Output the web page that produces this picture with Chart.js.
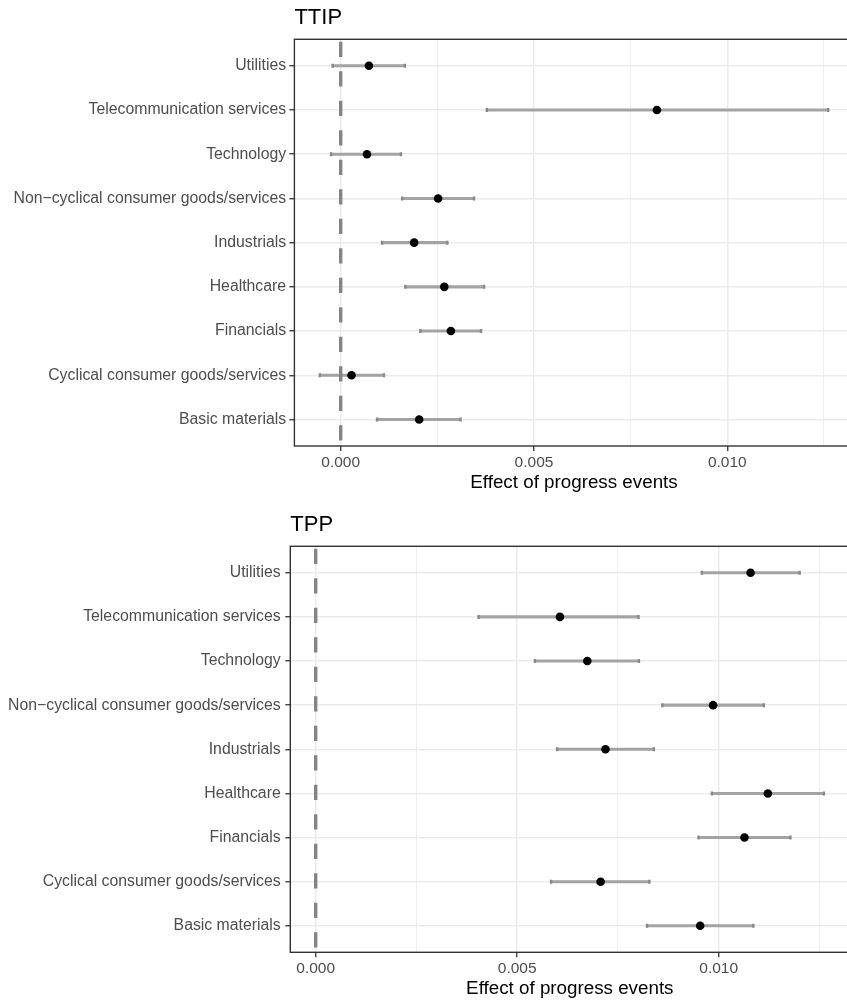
<!DOCTYPE html>
<html>
<head>
<meta charset="utf-8">
<script src="https://cdn.jsdelivr.net/npm/chart.js@4.4.1/dist/chart.umd.min.js"></script>
<style>
  html, body { margin: 0; padding: 0; background: #ffffff; overflow: hidden; width: 847px; height: 1005px; }
  canvas { position: absolute; left: 0; display: block; }
</style>
</head>
<body>
<canvas id="ttip" width="860" height="507" style="top:0px"></canvas>
<canvas id="tpp" width="860" height="498" style="top:507px"></canvas>
<script>
// Sectors, listed from the bottom row of each panel to the top row
const sectors = [
  'Basic materials',
  'Cyclical consumer goods/services',
  'Financials',
  'Healthcare',
  'Industrials',
  'Non\u2212cyclical consumer goods/services',
  'Technology',
  'Telecommunication services',
  'Utilities'
];

// TTIP: point estimates and confidence bounds
const ttipEstimate = [0.00203, 0.00028, 0.00285, 0.00268, 0.00190, 0.00252, 0.00068, 0.00818, 0.00073];
const ttipLower    = [0.00094, -0.00054, 0.00206, 0.00167, 0.00107, 0.00159, -0.00025, 0.00378, -0.00021];
const ttipUpper    = [0.00310, 0.00112, 0.00363, 0.00371, 0.00276, 0.00345, 0.00156, 0.01261, 0.00166];

// TPP: point estimates and confidence bounds
const tppEstimate = [0.00954, 0.00707, 0.01064, 0.01122, 0.00719, 0.00986, 0.00674, 0.00606, 0.01079];
const tppLower    = [0.00822, 0.00584, 0.00950, 0.00983, 0.00599, 0.00860, 0.00544, 0.00404, 0.00958];
const tppUpper    = [0.01086, 0.00828, 0.01178, 0.01261, 0.00839, 0.01112, 0.00802, 0.00801, 0.01201];

// x axis ticks: labelled majors and unlabelled minors
const xMajorTicks = [0, 0.005, 0.010];
const xTickLabels = ['0.000', '0.005', '0.010'];
const xMinorTicks = [0.0025, 0.0075, 0.0125];

const xTitle = 'Effect of progress events';
const FONT = "'Liberation Sans', Arial, Helvetica, sans-serif";

const isMajor = v => xMajorTicks.some(t => Math.abs(t - v) < 1e-9);

// Full panel frame drawn over the plot area
const panelBorder = {
  id: 'panelBorder',
  afterDraw(chart) {
    const { ctx, chartArea: a } = chart;
    ctx.save();
    ctx.strokeStyle = '#333333';
    ctx.lineWidth = 1.4;
    ctx.strokeRect(a.left, a.top, a.right - a.left, a.bottom - a.top);
    ctx.restore();
  }
};

function panel(canvasId, title, est, lower, upper, geo) {
  // data range (including the zero reference line) expanded by 5% each side
  const lo = Math.min(0, ...lower), hi = Math.max(0, ...upper);
  const pad = (hi - lo) * 0.05;
  const yMin = -0.6, yMax = sectors.length - 1 + 0.6;

  const intervals = [];
  sectors.forEach((s, i) => {
    intervals.push({ x: lower[i], y: i }, { x: upper[i], y: i }, { x: null, y: null });
  });
  const caps = [];
  sectors.forEach((s, i) => { caps.push({ x: lower[i], y: i }, { x: upper[i], y: i }); });

  new Chart(document.getElementById(canvasId), {
    type: 'scatter',
    data: {
      datasets: [
        {
          data: est.map((v, i) => ({ x: v, y: i })),
          pointRadius: 4.3, pointHoverRadius: 4.3,
          backgroundColor: '#000000', borderWidth: 0
        },
        {
          data: [{ x: 0, y: yMax }, { x: 0, y: yMin }],
          showLine: true, pointRadius: 0,
          borderColor: '#848484', borderWidth: 3.4,
          borderDash: [15.3, 14.2], borderDashOffset: 27.1,
          borderCapStyle: 'butt'
        },
        {
          data: caps,
          pointStyle: 'line', rotation: 90, pointRadius: 2,
          borderColor: '#888888', borderWidth: 2.4, backgroundColor: '#888888'
        },
        {
          data: intervals,
          showLine: true, spanGaps: false, pointRadius: 0,
          borderColor: '#a3a3a3', borderWidth: 3.1, borderCapStyle: 'butt'
        }
      ]
    },
    options: {
      responsive: false,
      animation: false,
      events: [],
      layout: { padding: { left: 0, top: 0, right: geo.padRight, bottom: geo.padBottom } },
      plugins: {
        legend: { display: false },
        tooltip: { enabled: false },
        title: {
          display: true, text: title, align: 'start', fullSize: false,
          color: '#000000',
          font: { family: FONT, size: 22, weight: 'normal', lineHeight: 1.2 },
          padding: { top: 4.6, bottom: 8.3 }
        }
      },
      scales: {
        x: {
          type: 'linear', min: lo - pad, max: hi + pad,
          afterBuildTicks: axis => {
            axis.ticks = [...xMajorTicks, ...xMinorTicks].sort((a, b) => a - b).map(v => ({ value: v }));
          },
          afterFit: axis => { axis.height = 46.4; },
          border: { display: false },
          grid: {
            color: '#ebebeb',
            lineWidth: c => (c.tick && isMajor(c.tick.value)) ? 1.5 : 0.8,
            tickLength: 5,
            tickWidth: 1.3,
            tickColor: c => (c.tick && isMajor(c.tick.value)) ? '#333333' : 'rgba(0,0,0,0)'
          },
          ticks: {
            autoSkip: false, maxRotation: 0, padding: 2,
            color: '#4d4d4d', font: { family: FONT, size: 15.5 },
            callback: v => {
              const k = xMajorTicks.findIndex(t => Math.abs(t - v) < 1e-9);
              return k >= 0 ? xTickLabels[k] : '';
            }
          },
          title: {
            display: true, text: xTitle, color: '#000000',
            font: { family: FONT, size: 18.8, lineHeight: 1 },
            padding: { top: 0, bottom: 0 }
          }
        },
        y: {
          type: 'linear', min: yMin, max: yMax,
          afterBuildTicks: axis => { axis.ticks = sectors.map((s, i) => ({ value: i })); },
          afterFit: axis => { axis.width = geo.axisWidth; },
          border: { display: false },
          grid: { color: '#ebebeb', lineWidth: 1.5, tickLength: 5, tickWidth: 1.3, tickColor: '#333333' },
          ticks: {
            autoSkip: false, padding: geo.labelPad,
            color: '#4d4d4d', font: { family: FONT, size: 15.8 },
            callback: v => sectors[Math.round(v)] ?? ''
          }
        }
      }
    },
    plugins: [panelBorder]
  });
}

panel('ttip', 'TTIP', ttipEstimate, ttipLower, ttipUpper,
      { padRight: 6.4, padBottom: 14.6, axisWidth: 294.4, labelPad: 3.3 });
panel('tpp', 'TPP', tppEstimate, tppLower, tppUpper,
      { padRight: 10.7, padBottom: 6.3, axisWidth: 290.3, labelPad: 4.6 });
</script>
</body>
</html>
